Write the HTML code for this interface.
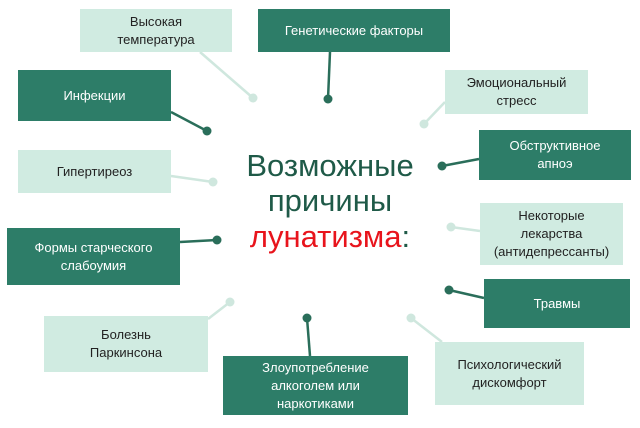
<!DOCTYPE html>
<html><head><meta charset="utf-8"><style>
body{margin:0;width:640px;height:428px;background:#fff;position:relative;overflow:hidden;font-family:"Liberation Sans","DejaVu Sans",sans-serif}
.b{position:absolute;display:flex;align-items:center;justify-content:center;text-align:center;font-size:13px;line-height:18px}
.d{background:#2d7d68;color:#fff}
.l{background:#d0ebe1;color:#222}
svg{position:absolute;left:0;top:0}
.t{position:absolute;left:200px;width:260px;text-align:center;font-size:31px;color:#1f5a48;line-height:35px}
</style></head><body>
<svg width="640" height="428">
<g stroke-width="2.5">
<line x1="200" y1="52" x2="253" y2="98" stroke="#cfe7de"/>
<line x1="330" y1="52" x2="328" y2="99" stroke="#2a6e5a"/>
<line x1="171" y1="112" x2="207" y2="131" stroke="#2a6e5a"/>
<line x1="171" y1="176" x2="213" y2="182" stroke="#cfe7de"/>
<line x1="180" y1="242" x2="217" y2="240" stroke="#2a6e5a"/>
<line x1="208" y1="319" x2="230" y2="302" stroke="#cfe7de"/>
<line x1="310" y1="356" x2="307" y2="318" stroke="#2a6e5a"/>
<line x1="442" y1="342" x2="411" y2="318" stroke="#cfe7de"/>
<line x1="484" y1="298" x2="449" y2="290" stroke="#2a6e5a"/>
<line x1="480" y1="231" x2="451" y2="227" stroke="#cfe7de"/>
<line x1="479" y1="159" x2="442" y2="166" stroke="#2a6e5a"/>
<line x1="445" y1="102" x2="424" y2="124" stroke="#cfe7de"/>
</g>
<g>
<circle cx="253" cy="98" r="4.5" fill="#cfe7de"/>
<circle cx="328" cy="99" r="4.5" fill="#2a6e5a"/>
<circle cx="207" cy="131" r="4.5" fill="#2a6e5a"/>
<circle cx="213" cy="182" r="4.5" fill="#cfe7de"/>
<circle cx="217" cy="240" r="4.5" fill="#2a6e5a"/>
<circle cx="230" cy="302" r="4.5" fill="#cfe7de"/>
<circle cx="307" cy="318" r="4.5" fill="#2a6e5a"/>
<circle cx="411" cy="318" r="4.5" fill="#cfe7de"/>
<circle cx="449" cy="290" r="4.5" fill="#2a6e5a"/>
<circle cx="451" cy="227" r="4.5" fill="#cfe7de"/>
<circle cx="442" cy="166" r="4.5" fill="#2a6e5a"/>
<circle cx="424" cy="124" r="4.5" fill="#cfe7de"/>
</g>
</svg>
<div class="b l" style="left:80px;top:9px;width:152px;height:43px">Высокая<br>температура</div>
<div class="b d" style="left:258px;top:9px;width:192px;height:43px">Генетические факторы</div>
<div class="b d" style="left:18px;top:70px;width:153px;height:51px">Инфекции</div>
<div class="b l" style="left:18px;top:150px;width:153px;height:43px">Гипертиреоз</div>
<div class="b d" style="left:7px;top:228px;width:173px;height:57px">Формы старческого<br>слабоумия</div>
<div class="b l" style="left:44px;top:316px;width:164px;height:56px">Болезнь<br>Паркинсона</div>
<div class="b d" style="left:223px;top:356px;width:185px;height:59px">Злоупотребление<br>алкоголем или<br>наркотиками</div>
<div class="b l" style="left:435px;top:342px;width:149px;height:63px">Психологический<br>дискомфорт</div>
<div class="b d" style="left:484px;top:279px;width:146px;height:49px">Травмы</div>
<div class="b l" style="left:480px;top:203px;width:143px;height:62px">Некоторые<br>лекарства<br>(антидепрессанты)</div>
<div class="b d" style="left:479px;top:130px;width:152px;height:50px">Обструктивное<br>апноэ</div>
<div class="b l" style="left:445px;top:70px;width:143px;height:44px">Эмоциональный<br>стресс</div>
<div class="t" style="top:148px">Возможные</div>
<div class="t" style="top:183px">причины</div>
<div class="t" style="top:219px;color:#e8141c">лунатизма<span style="color:#1f5a48">:</span></div>
</body></html>
